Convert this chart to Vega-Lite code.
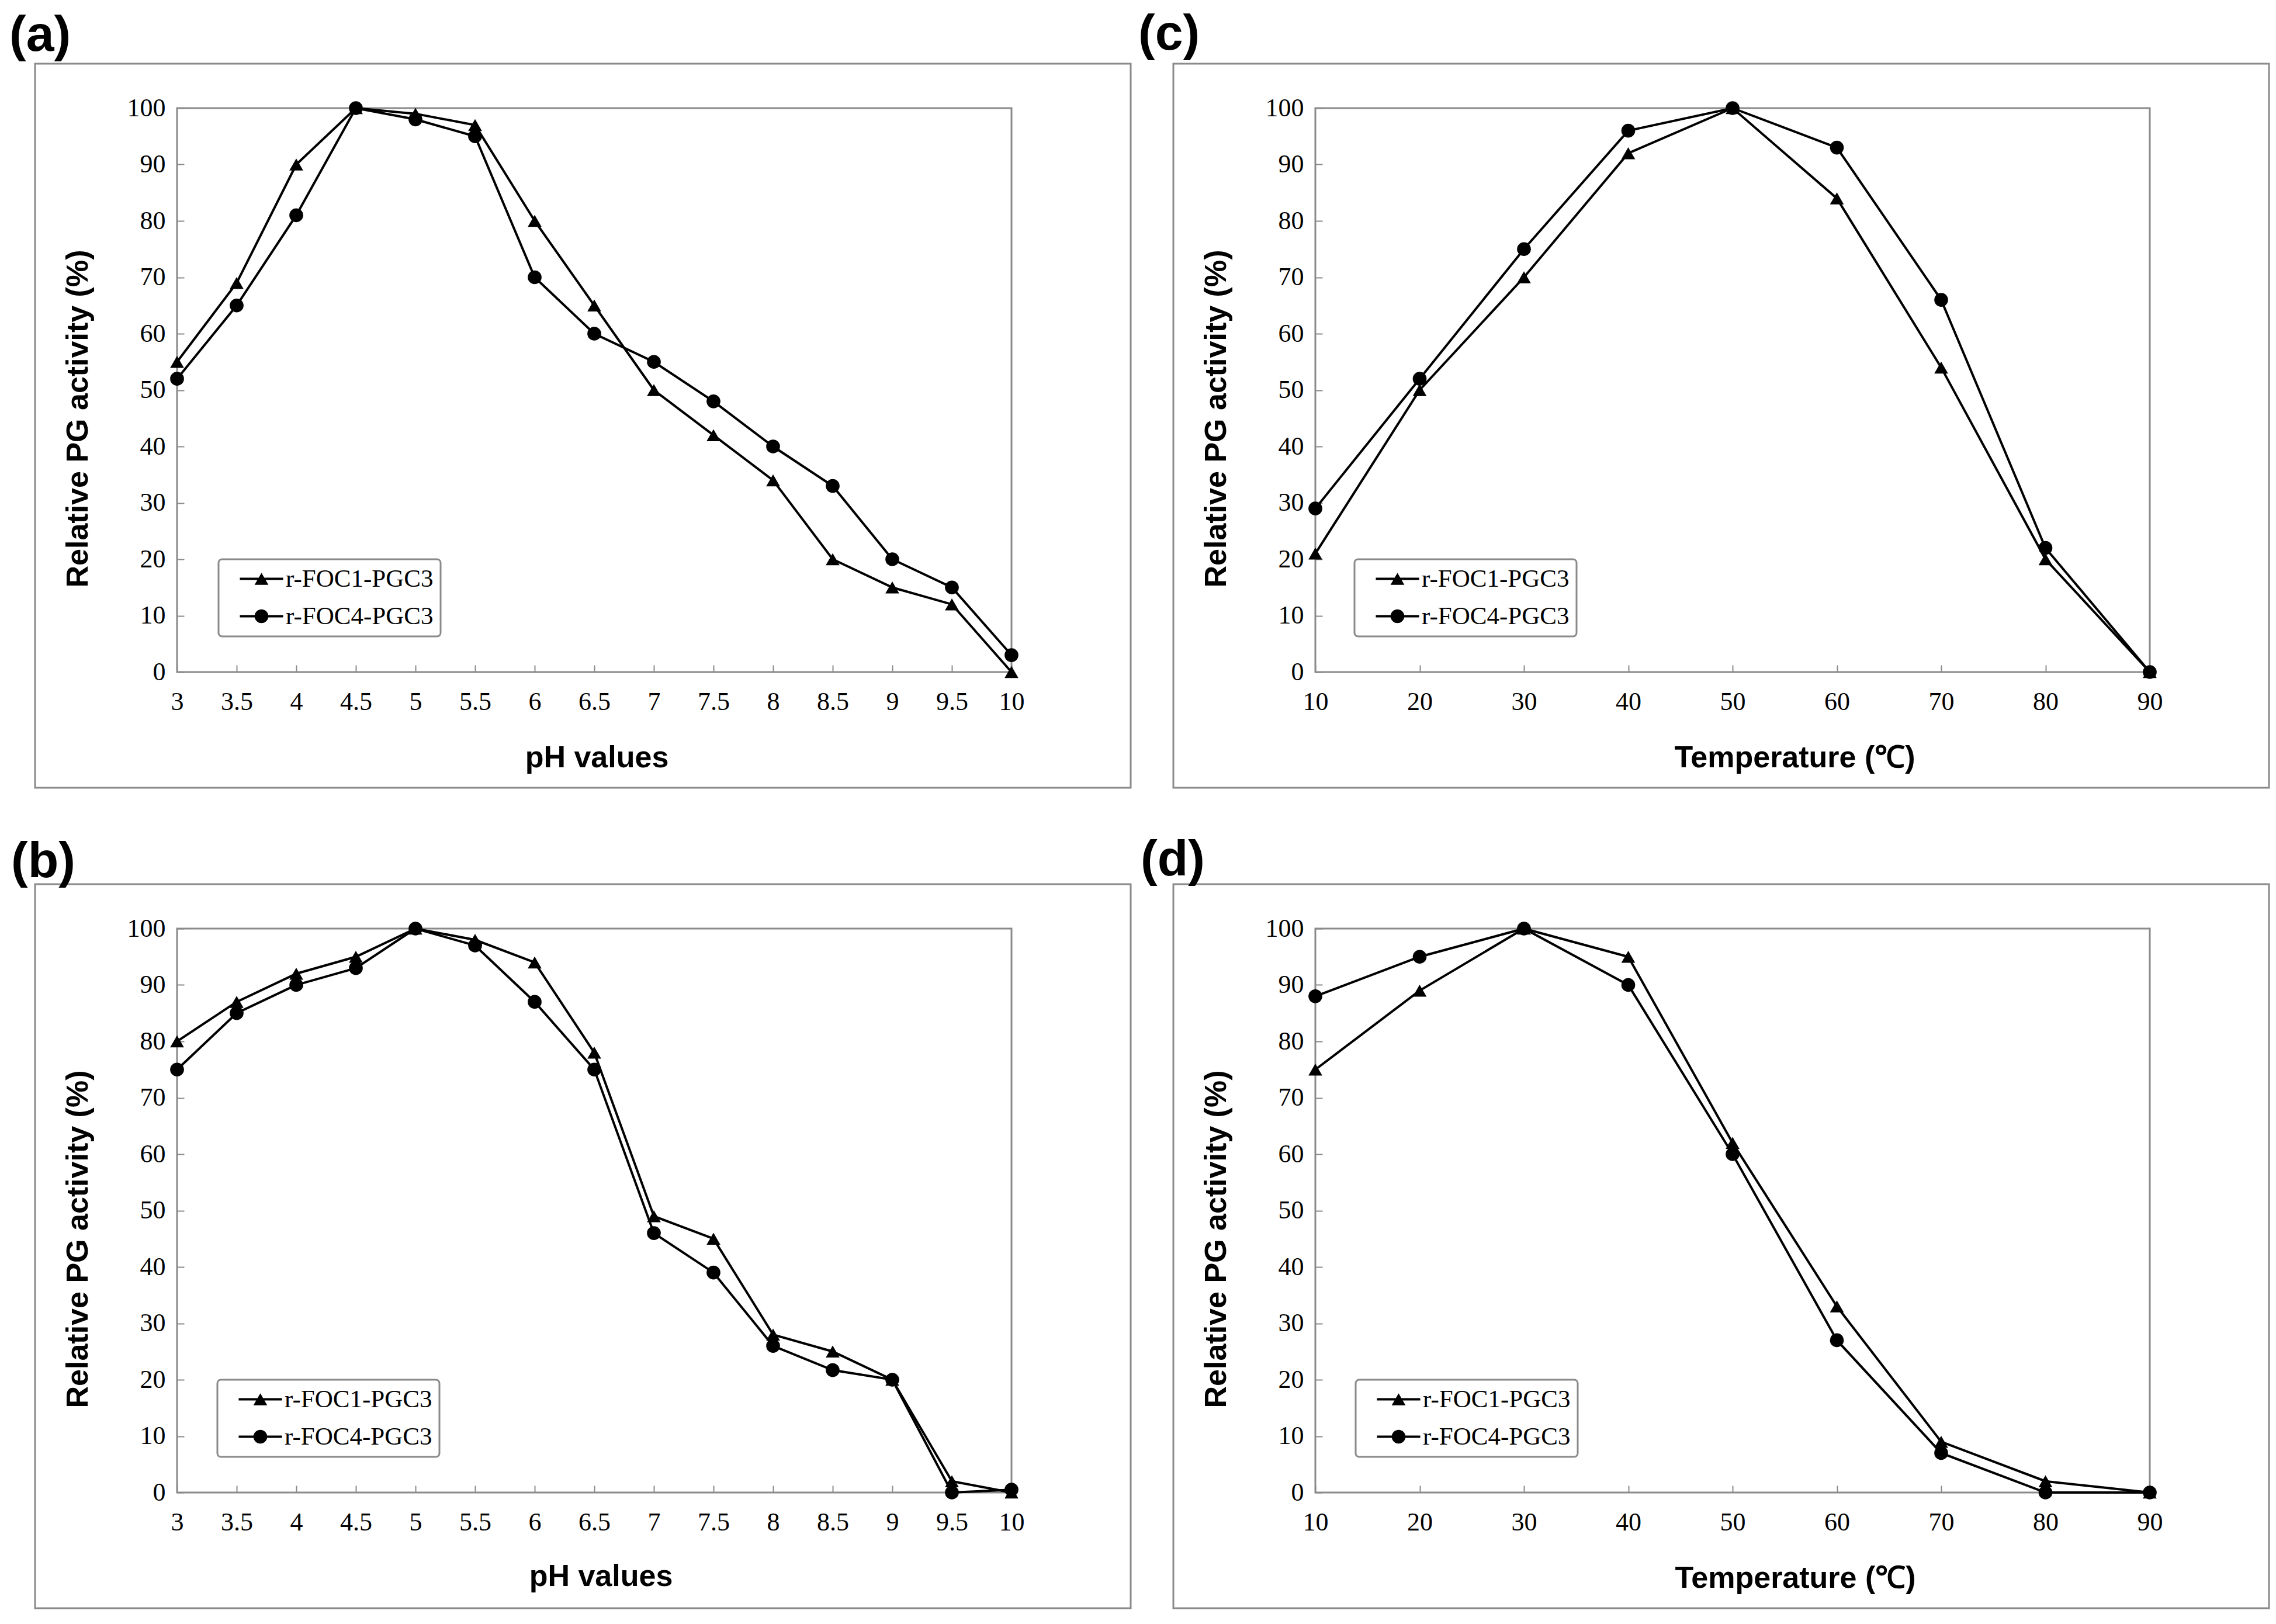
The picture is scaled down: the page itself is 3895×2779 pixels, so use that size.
{
  "$schema": "https://vega.github.io/schema/vega-lite/v6.json",
  "background": "white",
  "autosize": {"type": "pad"},
  "padding": {"left": 14, "top": 14, "right": 0, "bottom": 0},
  "datasets": {
    "a": [
      {"x": 3, "y": 55, "series": "r-FOC1-PGC3"}, {"x": 3.5, "y": 69, "series": "r-FOC1-PGC3"}, {"x": 4, "y": 90, "series": "r-FOC1-PGC3"}, {"x": 4.5, "y": 100, "series": "r-FOC1-PGC3"}, {"x": 5, "y": 99, "series": "r-FOC1-PGC3"}, {"x": 5.5, "y": 97, "series": "r-FOC1-PGC3"}, {"x": 6, "y": 80, "series": "r-FOC1-PGC3"}, {"x": 6.5, "y": 65, "series": "r-FOC1-PGC3"}, {"x": 7, "y": 50, "series": "r-FOC1-PGC3"}, {"x": 7.5, "y": 42, "series": "r-FOC1-PGC3"}, {"x": 8, "y": 34, "series": "r-FOC1-PGC3"}, {"x": 8.5, "y": 20, "series": "r-FOC1-PGC3"}, {"x": 9, "y": 15, "series": "r-FOC1-PGC3"}, {"x": 9.5, "y": 12, "series": "r-FOC1-PGC3"}, {"x": 10, "y": 0, "series": "r-FOC1-PGC3"},
      {"x": 3, "y": 52, "series": "r-FOC4-PGC3"}, {"x": 3.5, "y": 65, "series": "r-FOC4-PGC3"}, {"x": 4, "y": 81, "series": "r-FOC4-PGC3"}, {"x": 4.5, "y": 100, "series": "r-FOC4-PGC3"}, {"x": 5, "y": 98, "series": "r-FOC4-PGC3"}, {"x": 5.5, "y": 95, "series": "r-FOC4-PGC3"}, {"x": 6, "y": 70, "series": "r-FOC4-PGC3"}, {"x": 6.5, "y": 60, "series": "r-FOC4-PGC3"}, {"x": 7, "y": 55, "series": "r-FOC4-PGC3"}, {"x": 7.5, "y": 48, "series": "r-FOC4-PGC3"}, {"x": 8, "y": 40, "series": "r-FOC4-PGC3"}, {"x": 8.5, "y": 33, "series": "r-FOC4-PGC3"}, {"x": 9, "y": 20, "series": "r-FOC4-PGC3"}, {"x": 9.5, "y": 15, "series": "r-FOC4-PGC3"}, {"x": 10, "y": 3, "series": "r-FOC4-PGC3"}
    ],
    "b": [
      {"x": 3, "y": 80, "series": "r-FOC1-PGC3"}, {"x": 3.5, "y": 87, "series": "r-FOC1-PGC3"}, {"x": 4, "y": 92, "series": "r-FOC1-PGC3"}, {"x": 4.5, "y": 95, "series": "r-FOC1-PGC3"}, {"x": 5, "y": 100, "series": "r-FOC1-PGC3"}, {"x": 5.5, "y": 98, "series": "r-FOC1-PGC3"}, {"x": 6, "y": 94, "series": "r-FOC1-PGC3"}, {"x": 6.5, "y": 78, "series": "r-FOC1-PGC3"}, {"x": 7, "y": 49, "series": "r-FOC1-PGC3"}, {"x": 7.5, "y": 45, "series": "r-FOC1-PGC3"}, {"x": 8, "y": 28, "series": "r-FOC1-PGC3"}, {"x": 8.5, "y": 25, "series": "r-FOC1-PGC3"}, {"x": 9, "y": 20, "series": "r-FOC1-PGC3"}, {"x": 9.5, "y": 2, "series": "r-FOC1-PGC3"}, {"x": 10, "y": 0, "series": "r-FOC1-PGC3"},
      {"x": 3, "y": 75, "series": "r-FOC4-PGC3"}, {"x": 3.5, "y": 85, "series": "r-FOC4-PGC3"}, {"x": 4, "y": 90, "series": "r-FOC4-PGC3"}, {"x": 4.5, "y": 93, "series": "r-FOC4-PGC3"}, {"x": 5, "y": 100, "series": "r-FOC4-PGC3"}, {"x": 5.5, "y": 97, "series": "r-FOC4-PGC3"}, {"x": 6, "y": 87, "series": "r-FOC4-PGC3"}, {"x": 6.5, "y": 75, "series": "r-FOC4-PGC3"}, {"x": 7, "y": 46, "series": "r-FOC4-PGC3"}, {"x": 7.5, "y": 39, "series": "r-FOC4-PGC3"}, {"x": 8, "y": 26, "series": "r-FOC4-PGC3"}, {"x": 8.5, "y": 21.7, "series": "r-FOC4-PGC3"}, {"x": 9, "y": 20, "series": "r-FOC4-PGC3"}, {"x": 9.5, "y": 0, "series": "r-FOC4-PGC3"}, {"x": 10, "y": 0.5, "series": "r-FOC4-PGC3"}
    ],
    "c": [
      {"x": 10, "y": 21, "series": "r-FOC1-PGC3"}, {"x": 20, "y": 50, "series": "r-FOC1-PGC3"}, {"x": 30, "y": 70, "series": "r-FOC1-PGC3"}, {"x": 40, "y": 92, "series": "r-FOC1-PGC3"}, {"x": 50, "y": 100, "series": "r-FOC1-PGC3"}, {"x": 60, "y": 84, "series": "r-FOC1-PGC3"}, {"x": 70, "y": 54, "series": "r-FOC1-PGC3"}, {"x": 80, "y": 20, "series": "r-FOC1-PGC3"}, {"x": 90, "y": 0, "series": "r-FOC1-PGC3"},
      {"x": 10, "y": 29, "series": "r-FOC4-PGC3"}, {"x": 20, "y": 52, "series": "r-FOC4-PGC3"}, {"x": 30, "y": 75, "series": "r-FOC4-PGC3"}, {"x": 40, "y": 96, "series": "r-FOC4-PGC3"}, {"x": 50, "y": 100, "series": "r-FOC4-PGC3"}, {"x": 60, "y": 93, "series": "r-FOC4-PGC3"}, {"x": 70, "y": 66, "series": "r-FOC4-PGC3"}, {"x": 80, "y": 22, "series": "r-FOC4-PGC3"}, {"x": 90, "y": 0, "series": "r-FOC4-PGC3"}
    ],
    "d": [
      {"x": 10, "y": 75, "series": "r-FOC1-PGC3"}, {"x": 20, "y": 89, "series": "r-FOC1-PGC3"}, {"x": 30, "y": 100, "series": "r-FOC1-PGC3"}, {"x": 40, "y": 95, "series": "r-FOC1-PGC3"}, {"x": 50, "y": 62, "series": "r-FOC1-PGC3"}, {"x": 60, "y": 33, "series": "r-FOC1-PGC3"}, {"x": 70, "y": 9, "series": "r-FOC1-PGC3"}, {"x": 80, "y": 2, "series": "r-FOC1-PGC3"}, {"x": 90, "y": 0, "series": "r-FOC1-PGC3"},
      {"x": 10, "y": 88, "series": "r-FOC4-PGC3"}, {"x": 20, "y": 95, "series": "r-FOC4-PGC3"}, {"x": 30, "y": 100, "series": "r-FOC4-PGC3"}, {"x": 40, "y": 90, "series": "r-FOC4-PGC3"}, {"x": 50, "y": 60, "series": "r-FOC4-PGC3"}, {"x": 60, "y": 27, "series": "r-FOC4-PGC3"}, {"x": 70, "y": 7, "series": "r-FOC4-PGC3"}, {"x": 80, "y": 0, "series": "r-FOC4-PGC3"}, {"x": 90, "y": 0, "series": "r-FOC4-PGC3"}
    ]
  },
  "columns": 2,
  "bounds": "flush",
  "spacing": {"row": 439, "column": 520},
  "resolve": {"scale": {"x": "independent", "y": "independent", "shape": "independent"}, "legend": {"shape": "independent"}},
  "concat": [
    {
      "width": 1428, "height": 965,
      "title": {"text": "(a)", "anchor": "start", "frame": "group", "dx": -287, "offset": -66, "baseline": "alphabetic"},
      "data": {"name": "a"},
      "resolve": {"scale": {"shape": "independent"}, "legend": {"shape": "independent"}},
      "layer": [
        {
          "data": {"values": [{}]},
          "mark": {"type": "rect", "filled": false, "stroke": "#8a8a8a", "strokeWidth": 3},
          "encoding": {
            "x": {"datum": 1.8088, "type": "quantitative", "scale": {"domain": [3, 10], "nice": false, "zero": false}, "title": "pH values"},
            "x2": {"datum": 11.0},
            "y": {"datum": 107.876, "type": "quantitative", "scale": {"domain": [0, 100], "nice": false}, "title": "Relative PG activity (%)"},
            "y2": {"datum": -20.518}
          }
        },
        {
          "mark": {"type": "line", "color": "black", "strokeWidth": 4},
          "encoding": {
            "x": {"field": "x", "type": "quantitative", "scale": {"domain": [3, 10], "nice": false, "zero": false}, "title": "pH values",
                  "axis": {"values": [3, 3.5, 4, 4.5, 5, 5.5, 6, 6.5, 7, 7.5, 8, 8.5, 9, 9.5, 10], "format": "~g", "titleX": 718, "titleY": 146, "titleBaseline": "middle"}},
            "y": {"field": "y", "type": "quantitative", "scale": {"domain": [0, 100], "nice": false}, "title": "Relative PG activity (%)",
                  "axis": {"values": [0, 10, 20, 30, 40, 50, 60, 70, 80, 90, 100], "titleX": -170, "titleY": 531, "titleBaseline": "middle"}},
            "detail": {"field": "series"}
          }
        },
        {
          "mark": {"type": "point", "filled": true, "color": "black", "opacity": 1, "size": 560},
          "encoding": {
            "x": {"field": "x", "type": "quantitative", "title": "pH values"},
            "y": {"field": "y", "type": "quantitative", "title": "Relative PG activity (%)"},
            "shape": {"field": "series", "type": "nominal", "scale": {"domain": ["r-FOC1-PGC3", "r-FOC4-PGC3"], "range": ["triangle-up", "circle"]}, "legend": null}
          }
        },
        {
          "mark": {"type": "point", "filled": true, "color": "black", "opacity": 0, "size": 560},
          "encoding": {
            "x": {"field": "x", "type": "quantitative", "title": "pH values"},
            "y": {"field": "y", "type": "quantitative", "title": "Relative PG activity (%)"},
            "shape": {"field": "series", "type": "nominal", "scale": {"domain": ["r-FOC1-PGC3", "r-FOC4-PGC3"], "range": ["M-3.13,-0.17H3.13V0.17H-3.13ZM0,-0.87L1,0.87L-1,0.87Z", "M-3.13,-0.17H3.13V0.17H-3.13ZM1,0A1,1,0,1,1,-1,0A1,1,0,1,1,1,0Z"]},
              "legend": {"legendX": 71, "legendY": 772}}
          }
        }
      ]
    },
    {
      "width": 1428, "height": 965,
      "title": {"text": "(c)", "anchor": "start", "frame": "group", "dx": -303, "offset": -64, "baseline": "alphabetic"},
      "data": {"name": "c"},
      "resolve": {"scale": {"shape": "independent"}, "legend": {"shape": "independent"}},
      "layer": [
        {
          "data": {"values": [{}]},
          "mark": {"type": "rect", "filled": false, "stroke": "#8a8a8a", "strokeWidth": 3},
          "encoding": {
            "x": {"datum": -3.613, "type": "quantitative", "scale": {"domain": [10, 90], "nice": false, "zero": false}, "title": "Temperature (℃)"},
            "x2": {"datum": 101.43},
            "y": {"datum": 107.876, "type": "quantitative", "scale": {"domain": [0, 100], "nice": false}, "title": "Relative PG activity (%)"},
            "y2": {"datum": -20.518}
          }
        },
        {
          "mark": {"type": "line", "color": "black", "strokeWidth": 4},
          "encoding": {
            "x": {"field": "x", "type": "quantitative", "scale": {"domain": [10, 90], "nice": false, "zero": false}, "title": "Temperature (℃)",
                  "axis": {"values": [10, 20, 30, 40, 50, 60, 70, 80, 90], "format": "~g", "titleX": 820, "titleY": 146, "titleBaseline": "middle"}},
            "y": {"field": "y", "type": "quantitative", "scale": {"domain": [0, 100], "nice": false}, "title": "Relative PG activity (%)",
                  "axis": {"values": [0, 10, 20, 30, 40, 50, 60, 70, 80, 90, 100], "titleX": -170, "titleY": 531, "titleBaseline": "middle"}},
            "detail": {"field": "series"}
          }
        },
        {
          "mark": {"type": "point", "filled": true, "color": "black", "opacity": 1, "size": 560},
          "encoding": {
            "x": {"field": "x", "type": "quantitative", "title": "Temperature (℃)"},
            "y": {"field": "y", "type": "quantitative", "title": "Relative PG activity (%)"},
            "shape": {"field": "series", "type": "nominal", "scale": {"domain": ["r-FOC1-PGC3", "r-FOC4-PGC3"], "range": ["triangle-up", "circle"]}, "legend": null}
          }
        },
        {
          "mark": {"type": "point", "filled": true, "color": "black", "opacity": 0, "size": 560},
          "encoding": {
            "x": {"field": "x", "type": "quantitative", "title": "Temperature (℃)"},
            "y": {"field": "y", "type": "quantitative", "title": "Relative PG activity (%)"},
            "shape": {"field": "series", "type": "nominal", "scale": {"domain": ["r-FOC1-PGC3", "r-FOC4-PGC3"], "range": ["M-3.13,-0.17H3.13V0.17H-3.13ZM0,-0.87L1,0.87L-1,0.87Z", "M-3.13,-0.17H3.13V0.17H-3.13ZM1,0A1,1,0,1,1,-1,0A1,1,0,1,1,1,0Z"]},
              "legend": {"legendX": 67, "legendY": 772}}
          }
        }
      ]
    },
    {
      "width": 1428, "height": 965,
      "title": {"text": "(b)", "anchor": "start", "frame": "group", "dx": -284, "offset": -76, "baseline": "alphabetic"},
      "data": {"name": "b"},
      "resolve": {"scale": {"shape": "independent"}, "legend": {"shape": "independent"}},
      "layer": [
        {
          "data": {"values": [{}]},
          "mark": {"type": "rect", "filled": false, "stroke": "#8a8a8a", "strokeWidth": 3},
          "encoding": {
            "x": {"datum": 1.8088, "type": "quantitative", "scale": {"domain": [3, 10], "nice": false, "zero": false}, "title": "pH values"},
            "x2": {"datum": 11.0},
            "y": {"datum": 107.876, "type": "quantitative", "scale": {"domain": [0, 100], "nice": false}, "title": "Relative PG activity (%)"},
            "y2": {"datum": -20.518}
          }
        },
        {
          "mark": {"type": "line", "color": "black", "strokeWidth": 4},
          "encoding": {
            "x": {"field": "x", "type": "quantitative", "scale": {"domain": [3, 10], "nice": false, "zero": false}, "title": "pH values",
                  "axis": {"values": [3, 3.5, 4, 4.5, 5, 5.5, 6, 6.5, 7, 7.5, 8, 8.5, 9, 9.5, 10], "format": "~g", "titleX": 725, "titleY": 143, "titleBaseline": "middle"}},
            "y": {"field": "y", "type": "quantitative", "scale": {"domain": [0, 100], "nice": false}, "title": "Relative PG activity (%)",
                  "axis": {"values": [0, 10, 20, 30, 40, 50, 60, 70, 80, 90, 100], "titleX": -170, "titleY": 531, "titleBaseline": "middle"}},
            "detail": {"field": "series"}
          }
        },
        {
          "mark": {"type": "point", "filled": true, "color": "black", "opacity": 1, "size": 560},
          "encoding": {
            "x": {"field": "x", "type": "quantitative", "title": "pH values"},
            "y": {"field": "y", "type": "quantitative", "title": "Relative PG activity (%)"},
            "shape": {"field": "series", "type": "nominal", "scale": {"domain": ["r-FOC1-PGC3", "r-FOC4-PGC3"], "range": ["triangle-up", "circle"]}, "legend": null}
          }
        },
        {
          "mark": {"type": "point", "filled": true, "color": "black", "opacity": 0, "size": 560},
          "encoding": {
            "x": {"field": "x", "type": "quantitative", "title": "pH values"},
            "y": {"field": "y", "type": "quantitative", "title": "Relative PG activity (%)"},
            "shape": {"field": "series", "type": "nominal", "scale": {"domain": ["r-FOC1-PGC3", "r-FOC4-PGC3"], "range": ["M-3.13,-0.17H3.13V0.17H-3.13ZM0,-0.87L1,0.87L-1,0.87Z", "M-3.13,-0.17H3.13V0.17H-3.13ZM1,0A1,1,0,1,1,-1,0A1,1,0,1,1,1,0Z"]},
              "legend": {"legendX": 69, "legendY": 772}}
          }
        }
      ]
    },
    {
      "width": 1428, "height": 965,
      "title": {"text": "(d)", "anchor": "start", "frame": "group", "dx": -299, "offset": -73, "baseline": "alphabetic"},
      "data": {"name": "d"},
      "resolve": {"scale": {"shape": "independent"}, "legend": {"shape": "independent"}},
      "layer": [
        {
          "data": {"values": [{}]},
          "mark": {"type": "rect", "filled": false, "stroke": "#8a8a8a", "strokeWidth": 3},
          "encoding": {
            "x": {"datum": -3.613, "type": "quantitative", "scale": {"domain": [10, 90], "nice": false, "zero": false}, "title": "Temperature (℃)"},
            "x2": {"datum": 101.43},
            "y": {"datum": 107.876, "type": "quantitative", "scale": {"domain": [0, 100], "nice": false}, "title": "Relative PG activity (%)"},
            "y2": {"datum": -20.518}
          }
        },
        {
          "mark": {"type": "line", "color": "black", "strokeWidth": 4},
          "encoding": {
            "x": {"field": "x", "type": "quantitative", "scale": {"domain": [10, 90], "nice": false, "zero": false}, "title": "Temperature (℃)",
                  "axis": {"values": [10, 20, 30, 40, 50, 60, 70, 80, 90], "format": "~g", "titleX": 821, "titleY": 146, "titleBaseline": "middle"}},
            "y": {"field": "y", "type": "quantitative", "scale": {"domain": [0, 100], "nice": false}, "title": "Relative PG activity (%)",
                  "axis": {"values": [0, 10, 20, 30, 40, 50, 60, 70, 80, 90, 100], "titleX": -170, "titleY": 531, "titleBaseline": "middle"}},
            "detail": {"field": "series"}
          }
        },
        {
          "mark": {"type": "point", "filled": true, "color": "black", "opacity": 1, "size": 560},
          "encoding": {
            "x": {"field": "x", "type": "quantitative", "title": "Temperature (℃)"},
            "y": {"field": "y", "type": "quantitative", "title": "Relative PG activity (%)"},
            "shape": {"field": "series", "type": "nominal", "scale": {"domain": ["r-FOC1-PGC3", "r-FOC4-PGC3"], "range": ["triangle-up", "circle"]}, "legend": null}
          }
        },
        {
          "mark": {"type": "point", "filled": true, "color": "black", "opacity": 0, "size": 560},
          "encoding": {
            "x": {"field": "x", "type": "quantitative", "title": "Temperature (℃)"},
            "y": {"field": "y", "type": "quantitative", "title": "Relative PG activity (%)"},
            "shape": {"field": "series", "type": "nominal", "scale": {"domain": ["r-FOC1-PGC3", "r-FOC4-PGC3"], "range": ["M-3.13,-0.17H3.13V0.17H-3.13ZM0,-0.87L1,0.87L-1,0.87Z", "M-3.13,-0.17H3.13V0.17H-3.13ZM1,0A1,1,0,1,1,-1,0A1,1,0,1,1,1,0Z"]},
              "legend": {"legendX": 69, "legendY": 772}}
          }
        }
      ]
    }
  ],
  "config": {
    "view": {"stroke": "#8a8a8a", "strokeWidth": 3},
    "axis": {
      "domain": false, "grid": false,
      "tickColor": "#8a8a8a", "tickWidth": 2, "tickSize": -12,
      "labelFont": "Liberation Serif", "labelFontSize": 44, "labelColor": "black",
      "labelFlush": false, "labelOverlap": false,
      "titleFont": "Liberation Sans", "titleFontSize": 52, "titleFontWeight": "bold", "titleColor": "black"
    },
    "axisX": {"labelPadding": 41},
    "axisY": {"labelPadding": 32},
    "title": {"font": "Liberation Sans", "fontSize": 86, "fontWeight": "bold", "color": "black"},
    "legend": {
      "orient": "none", "title": null,
      "strokeColor": "#8a8a8a", "strokeWidth": 3, "fillColor": "white", "padding": 12, "cornerRadius": 6,
      "labelFont": "Liberation Serif", "labelFontSize": 43, "labelColor": "black", "labelOffset": 20, "labelLimit": 0,
      "symbolSize": 560, "symbolOpacity": 1, "symbolOffset": 40, "rowPadding": 20
    }
  }
}
